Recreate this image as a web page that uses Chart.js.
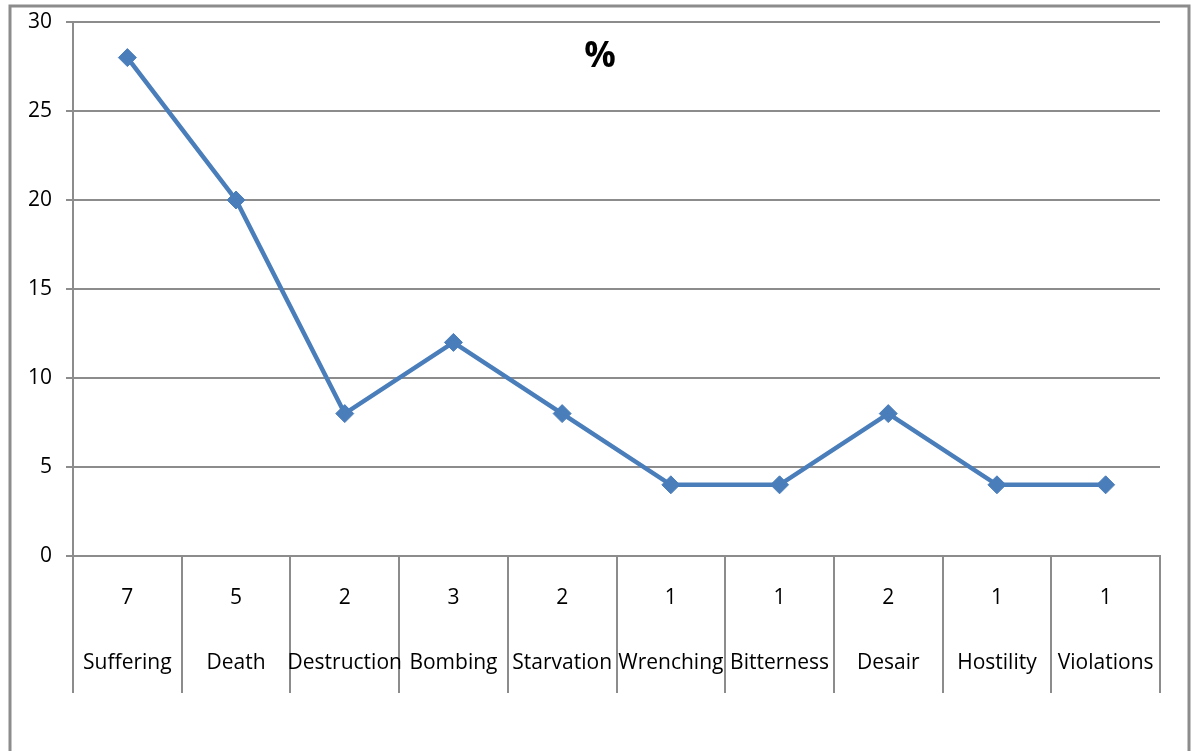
<!DOCTYPE html>
<html>
<head>
<meta charset="utf-8">
<script src="https://cdn.jsdelivr.net/npm/chart.js@4"></script>
<style>
  html, body { margin: 0; padding: 0; background: #fff; }
  #wrap { width: 1198px; height: 751px; position: relative; }
</style>
</head>
<body>
<div id="wrap"><canvas id="lineChart"></canvas></div>
<script>
const categories = ["Suffering", "Death", "Destruction", "Bombing", "Starvation",
  "Wrenching", "Bitterness", "Desair", "Hostility", "Violations"];
const counts = [7, 5, 2, 3, 2, 1, 1, 2, 1, 1];
const percents = [28, 20, 8, 12, 8, 4, 4, 8, 4, 4];
const yTicks = [0, 5, 10, 15, 20, 25, 30];

const lineBlue = "#4a7ebb";
const gridGray = "#8c8c8c";
const fontName = "'Open Sans', 'Noto Sans', sans-serif";

// outer frame + title + two-row category labels
const decorPlugin = {
  id: "decor",
  beforeDraw(chart) {
    const ctx = chart.ctx;
    ctx.save();
    ctx.strokeStyle = gridGray;
    ctx.lineWidth = 3;
    ctx.beginPath();
    ctx.moveTo(10, 760);
    ctx.lineTo(10, 6);
    ctx.lineTo(1189, 6);
    ctx.lineTo(1189, 760);
    ctx.stroke();
    ctx.restore();
  },
  afterDraw(chart) {
    const ctx = chart.ctx;
    const x = chart.scales.x;
    const base = chart.chartArea.bottom;
    ctx.save();
    ctx.fillStyle = "#000";
    ctx.textAlign = "center";
    ctx.textBaseline = "middle";
    ctx.font = "21px " + fontName;
    categories.forEach((name, i) => {
      const px = x.getPixelForValue(i);
      ctx.fillText(String(counts[i]), px, base + 42);
      ctx.fillText(name, px, base + 107);
    });
    ctx.font = "bold 35px " + fontName;
    ctx.fillText("%", 600, 57);
    ctx.restore();
  }
};

new Chart(document.getElementById("lineChart"), {
  type: "line",
  data: {
    labels: categories,
    datasets: [{
      data: percents,
      borderColor: lineBlue,
      backgroundColor: lineBlue,
      borderWidth: 4.5,
      pointStyle: "rectRot",
      pointRadius: 9,
      pointBorderWidth: 1,
      pointBackgroundColor: lineBlue,
      tension: 0
    }]
  },
  options: {
    responsive: true,
    maintainAspectRatio: false,
    animation: false,
    layout: { padding: { left: 0, right: 38, top: 22, bottom: 0 } },
    plugins: {
      legend: { display: false },
      tooltip: { enabled: false }
    },
    scales: {
      x: {
        offset: true,
        grid: {
          offset: true,
          drawOnChartArea: false,
          drawTicks: true,
          tickLength: 137,
          color: gridGray,
          lineWidth: 2
        },
        border: { display: true, color: gridGray, width: 2 },
        ticks: { display: false },
        afterFit(scale) { scale.height = 195; }
      },
      y: {
        min: 0,
        max: 30,
        afterBuildTicks(scale) { scale.ticks = yTicks.map(v => ({ value: v })); },
        grid: {
          color: gridGray,
          lineWidth: 2,
          drawTicks: true,
          tickLength: 7
        },
        border: { display: true, color: gridGray, width: 2 },
        ticks: {
          color: "#000",
          padding: 14,
          font: { family: fontName, size: 21 }
        },
        afterFit(scale) {
          scale.width = 73;
          scale.paddingTop = 0;
          scale.paddingBottom = 0;
        }
      }
    }
  },
  plugins: [decorPlugin]
});
</script>
</body>
</html>
